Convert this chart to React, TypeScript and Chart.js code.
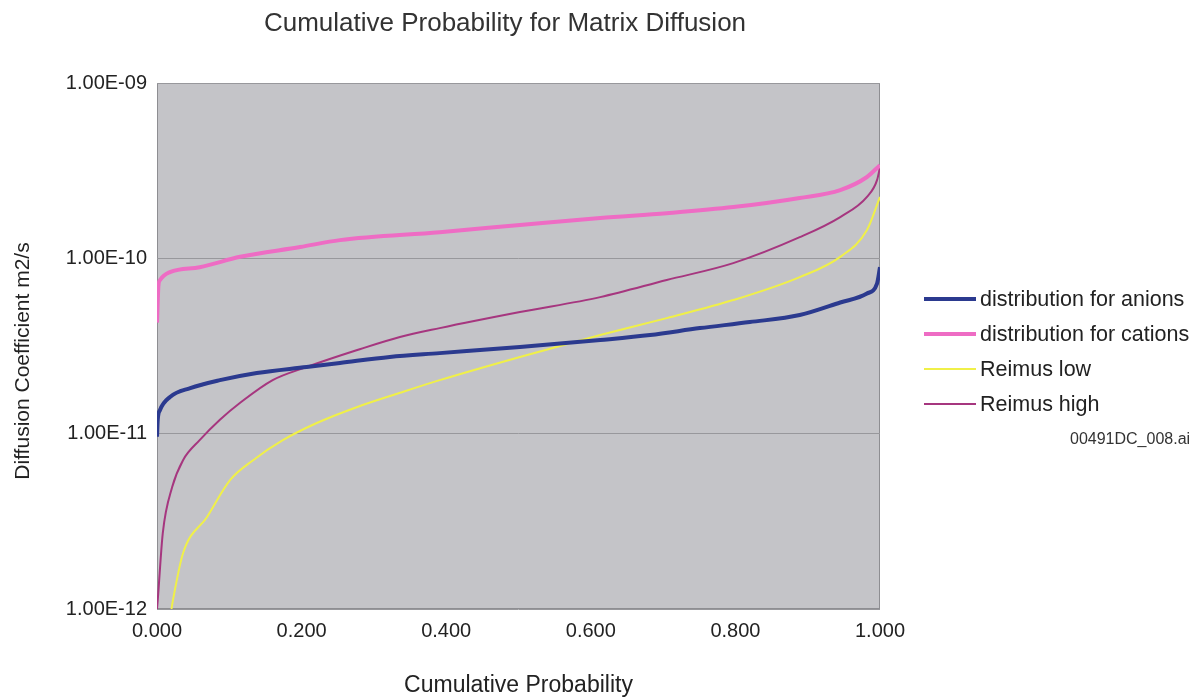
import React, { useEffect, useRef } from "react";
import { Chart, registerables } from "chart.js";

Chart.register(...registerables);

const FONT = "'Liberation Sans', Arial, Helvetica, sans-serif";

const titleText = "Cumulative Probability for Matrix Diffusion";
const xAxisTitle = "Cumulative Probability";
const yAxisTitle = "Diffusion Coefficient m2/s";
const yTickValues = [1e-12, 1e-11, 1e-10, 1e-9];
const seriesNames = [
  "distribution for anions",
  "distribution for cations",
  "Reimus low",
  "Reimus high",
];
const noteText = "00491DC_008.ai";

// cumulative probability (x) and diffusion coefficient (y) for each curve
const anionsP = [0, 0.001, 0.004, 0.018, 0.046, 0.087, 0.138, 0.207, 0.253, 0.322, 0.391, 0.502, 0.613, 0.682, 0.751, 0.82, 0.889, 0.945, 0.982, 0.996, 1.0];
const anionsD = [9.6e-12, 1.2e-11, 1.36e-11, 1.62e-11, 1.82e-11, 2.02e-11, 2.22e-11, 2.4e-11, 2.53e-11, 2.74e-11, 2.88e-11, 3.12e-11, 3.42e-11, 3.65e-11, 4.0e-11, 4.33e-11, 4.75e-11, 5.6e-11, 6.3e-11, 7.2e-11, 8.9e-11];

const cationsP = [0, 0.002, 0.004, 0.018, 0.059, 0.115, 0.198, 0.253, 0.391, 0.502, 0.613, 0.705, 0.797, 0.889, 0.945, 0.982, 1.0];
const cationsD = [4.3e-11, 7.0e-11, 7.5e-11, 8.35e-11, 8.9e-11, 1.02e-10, 1.16e-10, 1.27e-10, 1.41e-10, 1.55e-10, 1.7e-10, 1.81e-10, 1.96e-10, 2.21e-10, 2.45e-10, 2.91e-10, 3.4e-10];

const lowP = [0.02, 0.022, 0.036, 0.069, 0.101, 0.133, 0.174, 0.221, 0.277, 0.336, 0.391, 0.502, 0.613, 0.705, 0.797, 0.889, 0.945, 0.982, 1.0];
const lowD = [1.0e-12, 1.12e-12, 2.08e-12, 3.34e-12, 5.43e-12, 7.06e-12, 9.18e-12, 1.15e-11, 1.42e-11, 1.71e-11, 2.02e-11, 2.74e-11, 3.65e-11, 4.56e-11, 5.78e-11, 7.82e-11, 1.02e-10, 1.45e-10, 2.24e-10];

const highP = [0.0, 0.001, 0.008, 0.021, 0.036, 0.059, 0.087, 0.115, 0.16, 0.207, 0.277, 0.336, 0.391, 0.502, 0.613, 0.705, 0.797, 0.889, 0.945, 0.982, 0.996, 1.0];
const highD = [1.0e-12, 1.12e-12, 2.71e-12, 4.96e-12, 7.06e-12, 9.18e-12, 1.2e-11, 1.5e-11, 2.02e-11, 2.4e-11, 3.0e-11, 3.56e-11, 4.0e-11, 4.94e-11, 6.01e-11, 7.52e-11, 9.39e-11, 1.32e-10, 1.72e-10, 2.24e-10, 2.8e-10, 3.32e-10];

const colors = ["#2B3A8F", "#EE6CC4", "#F0F048", "#A6367F"];
const widths = [4, 4, 2, 2];

const pts = (p: number[], d: number[]) => p.map((x, i) => ({ x, y: d[i] }));

const fmtE = (v: number) => {
  const [m, e] = v.toExponential(2).split("e");
  const n = parseInt(e, 10);
  const a = Math.abs(n).toString().padStart(2, "0");
  return `${m}E${n < 0 ? "-" : ""}${a}`;
};

const plotBg = {
  id: "plotBg",
  beforeDraw(chart: any) {
    const { ctx, chartArea } = chart;
    ctx.save();
    ctx.fillStyle = "#C4C4C8";
    ctx.fillRect(chartArea.left, chartArea.top, chartArea.right - chartArea.left, chartArea.bottom - chartArea.top);
    ctx.strokeStyle = "#8E8E92";
    ctx.lineWidth = 1;
    ctx.strokeRect(chartArea.left + 0.5, chartArea.top + 0.5, chartArea.right - chartArea.left - 1, chartArea.bottom - chartArea.top - 1);
    ctx.restore();
  },
};

export default function App() {
  const ref = useRef<HTMLCanvasElement | null>(null);
  useEffect(() => {
    document.body.style.margin = "0";
    const series = [pts(anionsP, anionsD), pts(cationsP, cationsD), pts(lowP, lowD), pts(highP, highD)];
    const chart = new Chart(ref.current as HTMLCanvasElement, {
      type: "line",
      data: {
        datasets: series.map((data, i) => ({
          label: seriesNames[i],
          data,
          borderColor: colors[i],
          backgroundColor: colors[i],
          borderWidth: widths[i],
          pointRadius: 0,
          cubicInterpolationMode: "monotone",
          fill: false,
        })),
      },
      options: {
        animation: false,
        responsive: false,
        layout: { padding: { left: 8, right: 321, top: 83, bottom: 0 } },
        plugins: {
          legend: { display: false },
          tooltip: { enabled: false },
          title: { display: false },
        },
        scales: {
          x: {
            type: "linear",
            min: 0,
            max: 1,
            ticks: {
              stepSize: 0.2,
              color: "#222",
              font: { family: FONT, size: 20 },
              padding: 10,
              callback: (v: any) => Number(v).toFixed(3),
            },
            grid: { display: false, drawTicks: false },
            border: { display: false },
            title: {
              display: true,
              text: xAxisTitle,
              color: "#222",
              font: { family: FONT, size: 23 },
              padding: { top: 0, bottom: 1 },
            },
            afterFit: (s: any) => {
              s.height = 91;
            },
          },
          y: {
            type: "logarithmic",
            min: 1e-12,
            max: 1e-9,
            afterBuildTicks: (s: any) => {
              s.ticks = yTickValues.map((v) => ({ value: v }));
            },
            ticks: {
              color: "#222",
              font: { family: FONT, size: 20 },
              padding: 10,
              autoSkip: false,
              callback: (v: any) => fmtE(Number(v)),
            },
            grid: { color: "#98989C", lineWidth: 1, drawTicks: false },
            border: { display: false },
            title: { display: false },
            afterFit: (s: any) => {
              s.width = 149;
            },
          },
        },
      },
      plugins: [plotBg],
    });
    return () => chart.destroy();
  }, []);

  const legendTop = [299, 334, 369, 404];
  return (
    <div style={{ position: "relative", width: 1201, height: 700, background: "#fff", overflow: "hidden" }}>
      <canvas ref={ref} width={1201} height={700} style={{ position: "absolute", left: 0, top: 0 }} />
      <div
        style={{
          position: "absolute",
          left: 0,
          width: 1010,
          top: 6,
          textAlign: "center",
          fontFamily: FONT,
          fontSize: 26,
          lineHeight: "32px",
          color: "#333",
          whiteSpace: "nowrap",
        }}
      >
        {titleText}
      </div>
      <div
        style={{
          position: "absolute",
          left: 22 - 150,
          top: 361 - 14,
          width: 300,
          height: 28,
          lineHeight: "28px",
          textAlign: "center",
          transform: "rotate(-90deg)",
          fontFamily: FONT,
          fontSize: 21,
          color: "#222",
          whiteSpace: "nowrap",
        }}
      >
        {yAxisTitle}
      </div>
      {seriesNames.map((name, i) => (
        <div
          key={name}
          style={{
            position: "absolute",
            left: 924,
            top: legendTop[i] - 13,
            height: 26,
            display: "flex",
            alignItems: "center",
            fontFamily: FONT,
            fontSize: 21.5,
            color: "#222",
            whiteSpace: "nowrap",
          }}
        >
          <span style={{ display: "inline-block", width: 52, height: widths[i], background: colors[i], marginRight: 4 }} />
          <span>{name}</span>
        </div>
      ))}
      <div
        style={{
          position: "absolute",
          left: 1070,
          top: 430,
          fontFamily: FONT,
          fontSize: 16,
          color: "#333",
          whiteSpace: "nowrap",
        }}
      >
        {noteText}
      </div>
    </div>
  );
}
